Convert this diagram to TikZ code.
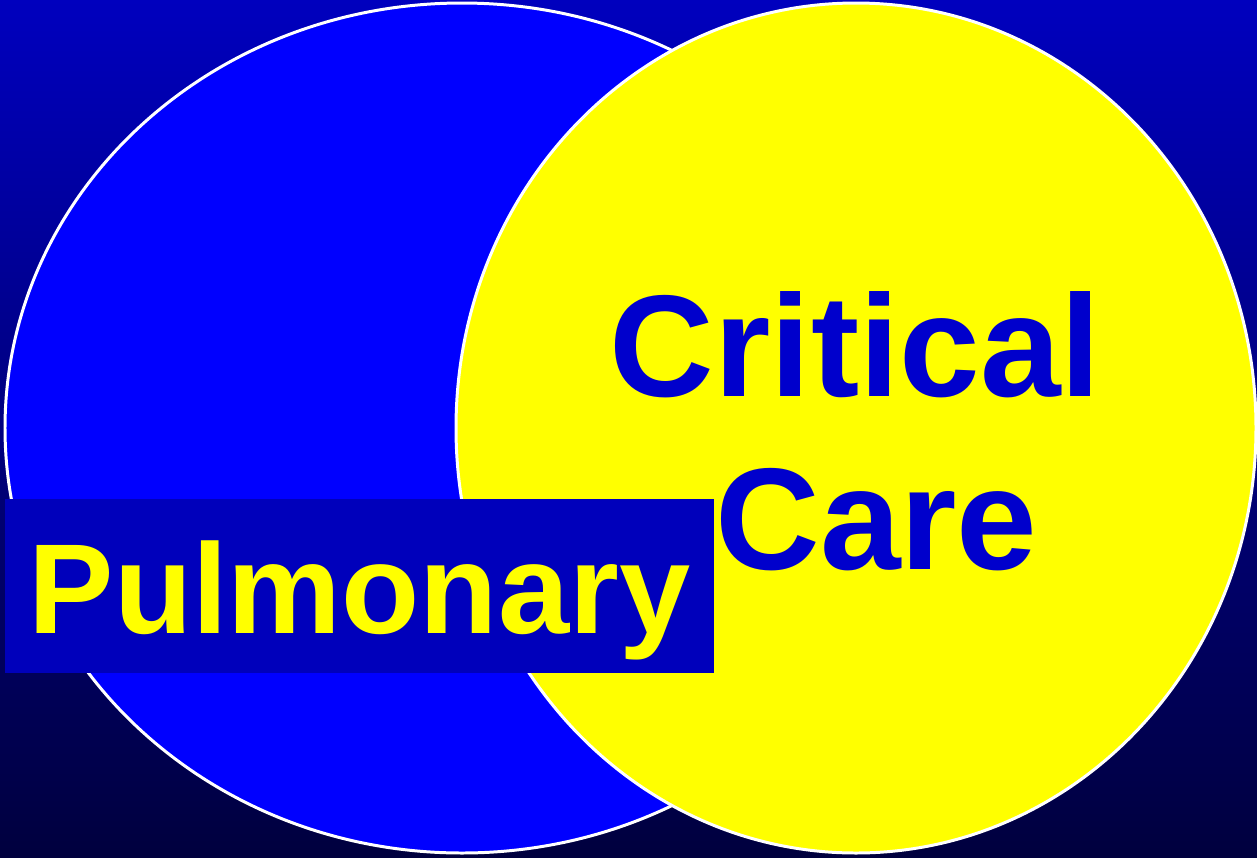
\documentclass[tikz,border=0pt]{standalone}
\usepackage{fontspec}
\setmainfont{Liberation Sans}
\usetikzlibrary{positioning}

\definecolor{bgtop}{RGB}{0,0,190}
\definecolor{bgbottom}{RGB}{0,0,62}
\definecolor{pulmblue}{RGB}{0,0,255}
\definecolor{careyellow}{RGB}{255,255,0}
\definecolor{boxblue}{RGB}{0,0,187}
\definecolor{textblue}{RGB}{0,0,204}

\tikzset{
    field/.style={fill=#1, draw=white, line width=0.85pt},
    bigword/.style={inner sep=0pt, anchor=base, font=\bfseries\fontsize{41.2}{50}\selectfont, text=textblue},
}

\begin{document}
\begin{tikzpicture}[x=0.01cm, y=-0.01cm]
    \useasboundingbox (0,0) rectangle (1257,857);

    % Draw the background
    \shade[top color=bgtop, bottom color=bgbottom] (0,0) rectangle (1257,857);

    % Draw the two fields
    \draw[field=pulmblue] (462,428) ellipse (457 and 425);
    \draw[field=careyellow] (856,428) ellipse (400 and 425);

    % Label of the left field
    \node[fill=boxblue, inner sep=0pt, minimum width=7.09cm, minimum height=1.74cm,
          text height=1.21cm, text depth=0.27cm, text=careyellow,
          font=\bfseries\fontsize{36.4}{44}\selectfont] (pulm) at (359.5,586) {Pulmonary};

    % Label of the right field
    \node[bigword] (crit) at (855.5,396) {Critical};
    \node[bigword] (care) at (876.5,569) {Care};

\end{tikzpicture}
\end{document}
